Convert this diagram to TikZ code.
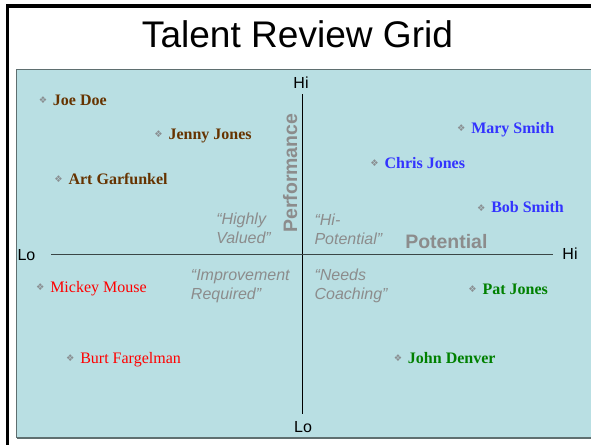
\documentclass[tikz,border=0pt]{standalone}
\usepackage{fontspec}
\setmainfont{Liberation Serif}
\setsansfont{Liberation Sans}
\newfontfamily\dingfont{DejaVu Sans}
\definecolor{panelfill}{HTML}{B9DFE3}
\definecolor{paneledge}{HTML}{5F6F70}
\definecolor{axisline}{HTML}{3A4646}
\definecolor{bulletgray}{HTML}{8A8F92}
\definecolor{quadgray}{HTML}{8C8C8C}
\definecolor{keepbrown}{HTML}{663300}
\definecolor{starblue}{HTML}{3333FF}
\definecolor{riskred}{HTML}{FF0000}
\definecolor{growgreen}{HTML}{008000}
% small four-diamond marker set just left of each name
\newcommand{\gridbullet}{\llap{{\dingfont\fontsize{7}{7}\selectfont\color{bulletgray}\raisebox{1.2pt}{❖}}\hspace{4.3pt}}}
\begin{document}
\begin{tikzpicture}[x=0.75pt,y=-0.75pt,
  person/.style={anchor=base west, inner sep=0pt, font=\fontsize{12}{14}\selectfont\bfseries},
  keeper/.style={person, text=keepbrown},
  star/.style={person, text=starblue},
  atrisk/.style={person, text=riskred, font=\fontsize{12}{14}\selectfont},
  grower/.style={person, text=growgreen},
  quadlabel/.style={anchor=base west, inner sep=0pt, align=left, text=quadgray,
    font=\sffamily\itshape\fontsize{12}{13.9}\selectfont},
  axislabel/.style={anchor=base, inner sep=0pt, font=\sffamily\fontsize{12}{14}\selectfont},
  axistitle/.style={anchor=base west, inner sep=0pt, text=quadgray,
    font=\sffamily\bfseries\fontsize{14.6}{16}\selectfont}]
\useasboundingbox (0,0) rectangle (591,444);
\clip (0,0) rectangle (591,444);

% outer frame and title
\draw[line width=2.4pt, black] (7.5,6) rectangle (620,470);
\node[anchor=base, inner sep=0pt, font=\sffamily\fontsize{27.8}{32}\selectfont] (title) at (297.5,47) {Talent Review Grid};

% shaded grid panel
\fill[panelfill] (16.5,69) rectangle (620,438);
\draw[paneledge, line width=0.6pt] (620,69) -- (16.5,69) -- (16.5,438);
\draw[paneledge, line width=1.6pt] (16.5,438) -- (620,438);

% axes
\coordinate (ytop) at (302.3,94);
\coordinate (ybot) at (302.3,414);
\coordinate (xleft) at (51,254.7);
\coordinate (xright) at (553,254.7);
\draw[black, line width=0.9pt] (ytop) -- (ybot);
\draw[axisline, line width=1.1pt] (xleft) -- (xright);

\node[axislabel] (perfhi) at (301,88) {Hi};
\node[axislabel] (perflo) at (303,432.7) {Lo};
\node[axislabel] (potlo) at (26.5,260.3) {Lo};
\node[axislabel] (pothi) at (570,259.8) {Hi};

\node[axistitle, rotate=90] (perf) at (297,233) {Performance};
\node[axistitle] (pot) at (405,248.3) {Potential};

% quadrant captions (anchored on the baseline of their second line)
\node[quadlabel] (hv) at (216,243) {“Highly\\Valued”};
\node[quadlabel] (hp) at (314.3,244) {“Hi-\\Potential”};
\node[quadlabel] (ir) at (190.7,299) {“Improvement\\Required”};
\node[quadlabel] (nc) at (314.3,299.3) {“Needs\\Coaching”};

% people
\node[keeper] (joe) at (52.7,105.5) {\gridbullet Joe Doe};
\node[keeper] (jenny) at (168.3,139) {\gridbullet Jenny Jones};
\node[keeper] (art) at (68.3,184) {\gridbullet Art Garfunkel};
\node[star] (mary) at (471,133) {\gridbullet Mary Smith};
\node[star] (chris) at (384.3,168) {\gridbullet Chris Jones};
\node[star] (bob) at (491,212.7) {\gridbullet Bob Smith};
\node[atrisk] (mickey) at (50,292) {\gridbullet Mickey Mouse};
\node[atrisk] (burt) at (80,363) {\gridbullet Burt Fargelman};
\node[grower] (pat) at (482.3,294) {\gridbullet Pat Jones};
\node[grower] (john) at (407.7,363) {\gridbullet John Denver};
\end{tikzpicture}
\end{document}
